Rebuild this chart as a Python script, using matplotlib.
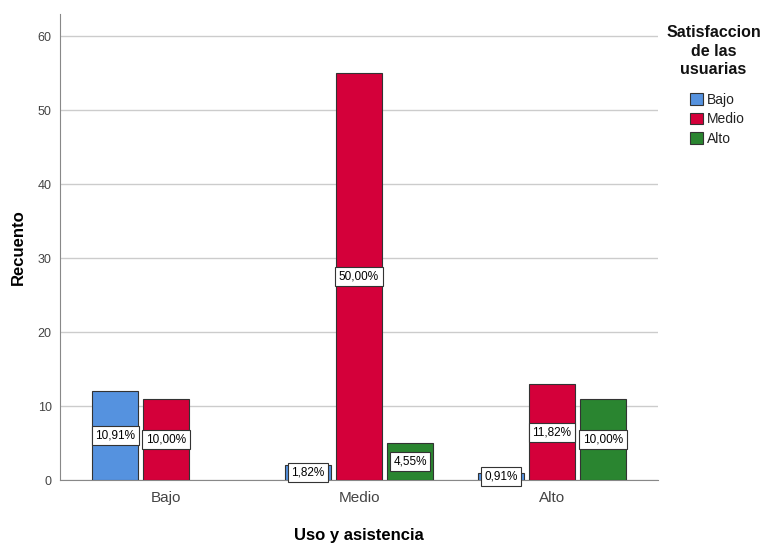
import matplotlib
matplotlib.use("Agg")
import matplotlib.pyplot as plt
import numpy as np

plt.rcParams['font.family'] = ['Liberation Sans', 'DejaVu Sans']

categories = ["Bajo", "Medio", "Alto"]
series = ["Bajo", "Medio", "Alto"]
counts_bajo = [12, 2, 1]
counts_medio = [11, 55, 13]
counts_alto = [0, 5, 11]
colors = ["#5592DF", "#D4003A", "#2A8530"]
yticks = [0, 10, 20, 30, 40, 50, 60]

data = [counts_bajo, counts_medio, counts_alto]
total = sum(sum(d) for d in data)

fig = plt.figure(figsize=(7.68, 5.45), dpi=100)
ax = fig.add_axes([0.078, 0.119, 0.779, 0.855])

x = np.arange(len(categories))
width = 0.238
step = 0.264
for i, (vals, col) in enumerate(zip(data, colors)):
    pos = x + (i - 1) * step
    for p, v in zip(pos, vals):
        if v <= 0:
            continue
        ax.bar(p, v, width=width, color=col, edgecolor="#333333", linewidth=0.8, zorder=3)
        pct = v / total * 100
        lbl = f"{pct:.2f}%".replace(".", ",")
        ax.text(p, v / 2, lbl, ha="center", va="center", fontsize=8.5, zorder=5,
                bbox=dict(boxstyle="square,pad=0.3", fc="white", ec="#333333", lw=0.8))

ax.set_xlim(-0.55, 2.55)
ax.set_ylim(0, 63)
ax.set_yticks(yticks)
ax.set_xticks(x)
ax.set_xticklabels(categories, fontsize=11, color="#444444")
ax.tick_params(axis="y", labelsize=9, length=0, pad=6)
ax.tick_params(axis="x", length=0, pad=8)
for t in ax.get_yticklabels():
    t.set_color("#444444")
ax.grid(axis="y", color="#cccccc", linewidth=1, zorder=0)
ax.set_axisbelow(True)
for s in ["top", "right"]:
    ax.spines[s].set_visible(False)
ax.spines["left"].set_color("#888888")
ax.spines["bottom"].set_color("#888888")
ax.set_ylabel("Recuento", fontsize=12, fontweight="bold", va="center")
ax.yaxis.set_label_coords(-0.070, 0.5)
ax.set_xlabel("Uso y asistencia", fontsize=12, fontweight="bold", va="center")
ax.xaxis.set_label_coords(0.5, -0.118)

fig.text(0.929, 1 - 25 / 545, "Satisfaccion\nde las\nusuarias", ha="center", va="top",
         fontsize=11.5, fontweight="bold", linespacing=1.3, color="#111111")

handles = [plt.Rectangle((0, 0), 1, 1, fc=c, ec="#333333", lw=0.8) for c in colors]
leg = fig.legend(handles, series, loc="upper left",
                 bbox_to_anchor=(690 / 768, 1 - 93 / 545), frameon=False, borderpad=0,
                 borderaxespad=0, fontsize=10, handlelength=0.95, handleheight=0.95,
                 handletextpad=0.25, labelspacing=0.38)
for t in leg.get_texts():
    t.set_color("#222222")

fig.savefig("out.png", dpi=100)
